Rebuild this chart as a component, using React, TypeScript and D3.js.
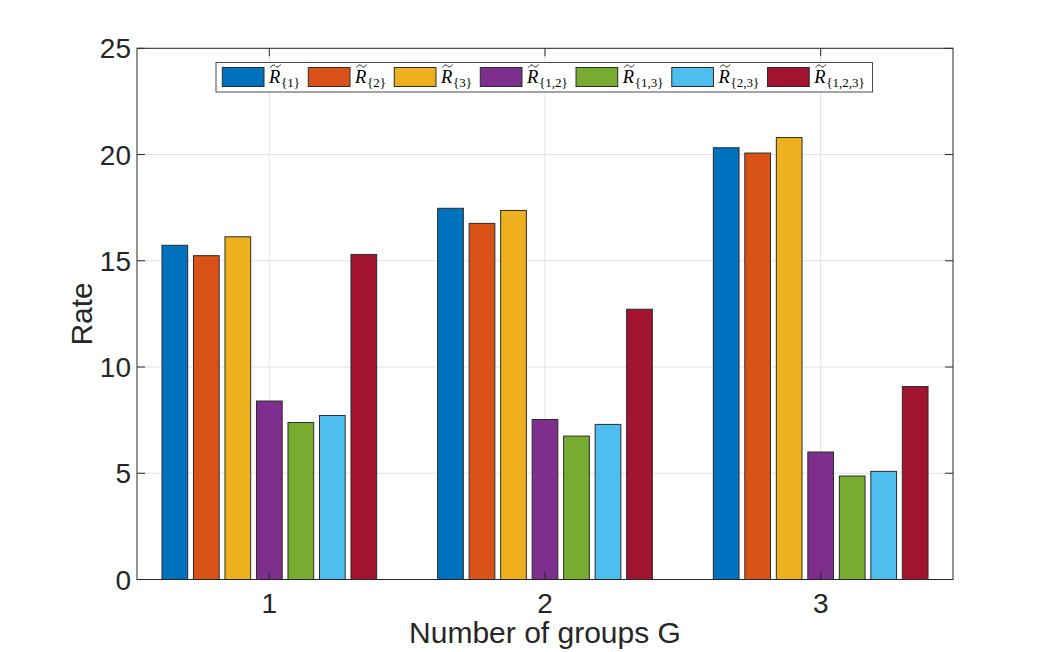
import React, { useEffect, useRef } from "react";
import * as d3 from "d3";

// Grouped bar chart: rate per number of groups G
const groups = [1, 2, 3];
const seriesKeys = ["{1}", "{2}", "{3}", "{1,2}", "{1,3}", "{2,3}", "{1,2,3}"];
const seriesColors = ["#0072BD", "#D95319", "#EDB120", "#7E2F8E", "#77AC30", "#4DBEEE", "#A2142F"];

const rateR1 = [15.73, 17.47, 20.32];
const rateR2 = [15.24, 16.76, 20.07];
const rateR3 = [16.13, 17.37, 20.8];
const rateR12 = [8.4, 7.53, 6.0];
const rateR13 = [7.39, 6.75, 4.87];
const rateR23 = [7.72, 7.3, 5.09];
const rateR123 = [15.3, 12.72, 9.08];

const yTicks = [0, 5, 10, 15, 20, 25];

const seriesValues = [rateR1, rateR2, rateR3, rateR12, rateR13, rateR23, rateR123];

const W = 1053;
const H = 652;

const App: React.FC = () => {
  const svgRef = useRef<SVGSVGElement>(null);

  useEffect(() => {
    if (!svgRef.current) return;
    const svg = d3.select(svgRef.current);
    svg.selectAll("*").remove();

    const left = 137;
    const right = 953;
    const top = 48.3;
    const bottom = 579.5;
    const axisColor = "#262626";
    const gridColor = "#e3e3e3";
    const sans = "'Liberation Sans', Arial, Helvetica, sans-serif";
    const serif = "'Liberation Serif', 'Times New Roman', serif";

    const x = d3.scaleLinear().domain([0.52, 3.48]).range([left, right]);
    const y = d3.scaleLinear().domain([0, 25]).range([bottom, top]);
    const xInner = d3
      .scaleBand<string>()
      .domain(seriesKeys)
      .range([-110.25, 110.25])
      .paddingInner(0.184)
      .paddingOuter(0.092);

    svg.append("rect").attr("width", W).attr("height", H).attr("fill", "#fff");

    // Grid lines
    const grid = svg.append("g");
    grid
      .selectAll("line.gy")
      .data(yTicks.slice(1, -1))
      .enter()
      .append("line")
      .attr("x1", left)
      .attr("x2", right)
      .attr("y1", (d) => y(d))
      .attr("y2", (d) => y(d))
      .attr("stroke", gridColor)
      .attr("stroke-width", 1);
    grid
      .selectAll("line.gx")
      .data(groups)
      .enter()
      .append("line")
      .attr("x1", (d) => x(d))
      .attr("x2", (d) => x(d))
      .attr("y1", top)
      .attr("y2", bottom)
      .attr("stroke", gridColor)
      .attr("stroke-width", 1);

    // Bars
    seriesKeys.forEach((key, si) => {
      svg
        .append("g")
        .selectAll("rect")
        .data(seriesValues[si])
        .enter()
        .append("rect")
        .attr("x", (_d, gi) => x(groups[gi]) + (xInner(key) || 0))
        .attr("width", xInner.bandwidth())
        .attr("y", (d) => y(d))
        .attr("height", (d) => y(0) - y(d))
        .attr("fill", seriesColors[si])
        .attr("stroke", "#2b2b2b")
        .attr("stroke-width", 1);
    });

    // Axes box
    const tickLen = 8;
    const axes = svg.append("g").attr("stroke", axisColor).attr("stroke-width", 1).attr("fill", "none");
    axes
      .append("rect")
      .attr("x", left)
      .attr("y", top)
      .attr("width", right - left)
      .attr("height", bottom - top);

    yTicks.forEach((t) => {
      axes.append("line").attr("x1", left).attr("x2", left + tickLen).attr("y1", y(t)).attr("y2", y(t));
      axes.append("line").attr("x1", right).attr("x2", right - tickLen).attr("y1", y(t)).attr("y2", y(t));
    });
    groups.forEach((g) => {
      axes.append("line").attr("x1", x(g)).attr("x2", x(g)).attr("y1", bottom).attr("y2", bottom - tickLen);
      axes.append("line").attr("x1", x(g)).attr("x2", x(g)).attr("y1", top).attr("y2", top + tickLen);
    });

    // Tick labels
    svg
      .append("g")
      .selectAll("text")
      .data(yTicks)
      .enter()
      .append("text")
      .attr("x", left - 6)
      .attr("y", (d) => y(d))
      .attr("dy", "0.36em")
      .attr("text-anchor", "end")
      .attr("font-family", sans)
      .attr("font-size", 28)
      .attr("fill", axisColor)
      .text((d) => String(d));

    svg
      .append("g")
      .selectAll("text")
      .data(groups)
      .enter()
      .append("text")
      .attr("x", (d) => x(d))
      .attr("y", 613)
      .attr("text-anchor", "middle")
      .attr("font-family", sans)
      .attr("font-size", 28)
      .attr("fill", axisColor)
      .text((d) => String(d));

    // Axis labels
    svg
      .append("text")
      .attr("x", (left + right) / 2)
      .attr("y", 643)
      .attr("text-anchor", "middle")
      .attr("font-family", sans)
      .attr("font-size", 30)
      .attr("fill", axisColor)
      .text("Number of groups G");

    svg
      .append("text")
      .attr("transform", `translate(92,${(top + bottom) / 2}) rotate(-90)`)
      .attr("text-anchor", "middle")
      .attr("font-family", sans)
      .attr("font-size", 30)
      .attr("fill", axisColor)
      .text("Rate");

    // Legend
    const legend = svg.append("g");
    const legBox = legend
      .append("rect")
      .attr("x", 216)
      .attr("y", 62.5)
      .attr("height", 29.5)
      .attr("fill", "#fff")
      .attr("stroke", "#4a4a4a")
      .attr("stroke-width", 1);

    let cursor = 222.3;
    const swW = 41.7;
    seriesKeys.forEach((key, i) => {
      const item = legend.append("g");
      item
        .append("rect")
        .attr("x", cursor)
        .attr("y", 67.5)
        .attr("width", swW)
        .attr("height", 19)
        .attr("fill", seriesColors[i])
        .attr("stroke", "#2b2b2b")
        .attr("stroke-width", 1);
      const tx = cursor + swW + 5;
      const label = item
        .append("text")
        .attr("x", tx)
        .attr("y", 83)
        .attr("font-family", serif)
        .attr("fill", "#000");
      label.append("tspan").attr("font-style", "italic").attr("font-size", 18.5).text("R");
      label
        .append("tspan")
        .attr("font-size", 13)
        .attr("dy", 3.5)
        .attr("dx", 0.8)
        .text(key);
      // tilde accent over R
      const p = d3.path();
      const tx0 = tx + 1.5;
      p.moveTo(tx0, 67.5);
      p.bezierCurveTo(tx0 + 2, 64.2, tx0 + 4, 64.8, tx0 + 5, 66);
      p.bezierCurveTo(tx0 + 6, 67.2, tx0 + 8, 67.8, tx0 + 10, 64.5);
      item
        .append("path")
        .attr("d", p.toString())
        .attr("fill", "none")
        .attr("stroke", "#000")
        .attr("stroke-width", 0.9);
      const tw = (label.node() as SVGTextElement).getComputedTextLength();
      cursor = tx + tw + 9;
    });
    legBox.attr("width", cursor - 216 - 0.5);
  }, []);

  return (
    <svg
      ref={svgRef}
      width={W}
      height={H}
      style={{ position: "absolute", left: 0, top: 0, display: "block" }}
    />
  );
};

export default App;
